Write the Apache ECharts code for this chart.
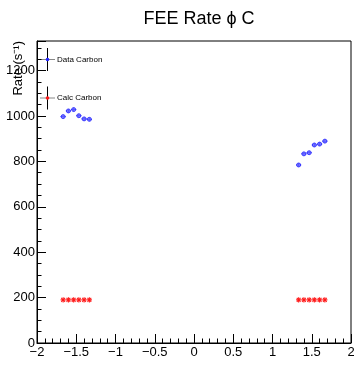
<!DOCTYPE html>
<html>
<head>
<meta charset="utf-8">
<script src="https://cdn.jsdelivr.net/npm/echarts@6/dist/echarts.min.js"></script>
<style>
  html, body { margin: 0; padding: 0; background: #fff; }
  #chart { width: 354px; height: 370px; }
</style>
</head>
<body>
<div id="chart"></div>
<script>
// Bin centres in phi (rad), with half bin width used as the x error
const phi = [-1.667, -1.6, -1.533, -1.467, -1.4, -1.333, 1.333, 1.4, 1.467, 1.533, 1.6, 1.667];
const phiErr = [0.033, 0.033, 0.033, 0.033, 0.033, 0.033, 0.033, 0.033, 0.033, 0.033, 0.033, 0.033];
// Measured rate for the carbon target (s^-1) and its statistical error
const dataCarbon = [997, 1022, 1028, 1001, 987, 985, 784, 833, 838, 872, 876, 889];
const dataCarbonErr = [8, 8, 8, 8, 8, 8, 8, 8, 8, 8, 8, 8];
// Calculated rate for carbon
const calcCarbon = [190, 190, 190, 190, 190, 190, 190, 190, 190, 190, 190, 190];
// Axis ticks
const xTicks = { min: -2, max: 2, step: 0.5 };
const yTicks = { min: 0, max: 1330, step: 200 };

const FONT = '"Liberation Sans", Arial, Helvetica, sans-serif';
const BLUE = '#2424ff';
const RED = '#ff1a1a';

const chart = echarts.init(document.getElementById('chart'), null, { renderer: 'canvas' });

function fmtNum(v) {
  return String(v).replace('-', '\u2212');
}

function errorBarItem(params, api) {
  const x = api.value(0), y = api.value(1), ex = api.value(2), ey = api.value(3);
  const l = api.coord([x - ex, y]), r = api.coord([x + ex, y]);
  const t = api.coord([x, y + ey]), b = api.coord([x, y - ey]);
  const st = { stroke: BLUE, lineWidth: 1 };
  return {
    type: 'group',
    children: [
      { type: 'line', shape: { x1: l[0], y1: l[1], x2: r[0], y2: r[1] }, style: st },
      { type: 'line', shape: { x1: t[0], y1: t[1], x2: b[0], y2: b[1] }, style: st }
    ]
  };
}

function asteriskItem(params, api) {
  const c = api.coord([api.value(0), api.value(1)]);
  const s = 2.6, d = 1.9;
  const st = { stroke: RED, lineWidth: 1.1 };
  const seg = (x1, y1, x2, y2) => ({ type: 'line', shape: { x1: c[0] + x1, y1: c[1] + y1, x2: c[0] + x2, y2: c[1] + y2 }, style: st });
  return {
    type: 'group',
    children: [seg(-s, 0, s, 0), seg(0, -s, 0, s), seg(-d, -d, d, d), seg(-d, d, d, -d)]
  };
}

const dataPts = phi.map((p, i) => [p, dataCarbon[i], phiErr[i], dataCarbonErr[i]]);
const calcPts = phi.map((p, i) => [p, calcCarbon[i]]);

// Legend drawn as ROOT-style error-bar glyphs
function legendEntry(cy, color, label) {
  return [
    { type: 'line', shape: { x1: 40, y1: cy, x2: 55, y2: cy }, style: { stroke: '#888', lineWidth: 1 } },
    { type: 'line', shape: { x1: 47.5, y1: cy - 11.5, x2: 47.5, y2: cy + 11.5 }, style: { stroke: '#000', lineWidth: 1 } },
    { type: 'circle', shape: { cx: 47.5, cy: cy, r: 1.8 }, style: { fill: color } },
    { type: 'text', x: 57, y: cy, style: { text: label, font: '8px ' + FONT, fill: '#000', textVerticalAlign: 'middle', verticalAlign: 'middle' } }
  ];
}

chart.setOption({
  animation: false,
  backgroundColor: '#fff',
  title: {
    text: 'FEE Rate \u03D5 C',
    left: 194,
    textAlign: 'center',
    top: 5,
    textStyle: { fontFamily: FONT, fontSize: 18, fontWeight: 'normal', color: '#000' }
  },
  grid: {
    left: 37, right: 3, top: 41, bottom: 27,
    show: true, borderColor: '#000', borderWidth: 1,
    containLabel: false, outerBoundsMode: 'none'
  },
  xAxis: {
    type: 'value',
    min: xTicks.min, max: xTicks.max, interval: xTicks.step,
    name: 'Phi',
    nameLocation: 'end',
    nameGap: 0,
    nameTextStyle: { fontFamily: FONT, fontSize: 13, color: '#000', align: 'right', verticalAlign: 'top', padding: [15, 0, 0, 0] },
    axisLine: { onZero: false, lineStyle: { color: '#000', width: 1 } },
    axisTick: { inside: true, length: 9, lineStyle: { color: '#000' } },
    minorTick: { show: true, splitNumber: 5, length: 4.5, lineStyle: { color: '#000' } },
    splitLine: { show: false },
    axisLabel: { fontFamily: FONT, fontSize: 13, color: '#000', margin: 3, formatter: fmtNum }
  },
  yAxis: {
    type: 'value',
    min: yTicks.min, max: yTicks.max, interval: yTicks.step,
    axisLine: { onZero: false, lineStyle: { color: '#000', width: 1 } },
    axisTick: { inside: true, length: 9, lineStyle: { color: '#000' } },
    minorTick: { show: true, splitNumber: 4, length: 4.5, lineStyle: { color: '#000' } },
    splitLine: { show: false },
    axisLabel: { fontFamily: FONT, fontSize: 13, color: '#000', margin: 2, showMaxLabel: false, formatter: fmtNum }
  },
  graphic: [
    {
      type: 'text',
      x: 18, y: 41,
      rotation: Math.PI / 2,
      style: {
        text: 'Rate (s\u207B\u00B9)',
        font: '13px ' + FONT,
        fill: '#000',
        textAlign: 'right', align: 'right',
        textVerticalAlign: 'middle', verticalAlign: 'middle'
      }
    },
    ...legendEntry(59.5, BLUE, 'Data Carbon'),
    ...legendEntry(98, RED, 'Calc Carbon')
  ],
  series: [
    {
      type: 'custom',
      name: 'Data Carbon errors',
      renderItem: errorBarItem,
      data: dataPts,
      encode: { x: 0, y: 1 },
      z: 2
    },
    {
      type: 'scatter',
      name: 'Data Carbon',
      data: dataPts.map(d => [d[0], d[1]]),
      symbol: 'circle',
      symbolSize: 4,
      itemStyle: { color: 'rgba(110,110,255,0.85)', borderColor: BLUE, borderWidth: 1 },
      z: 3
    },
    {
      type: 'custom',
      name: 'Calc Carbon',
      renderItem: asteriskItem,
      data: calcPts,
      encode: { x: 0, y: 1 },
      z: 3
    }
  ]
});
</script>
</body>
</html>
